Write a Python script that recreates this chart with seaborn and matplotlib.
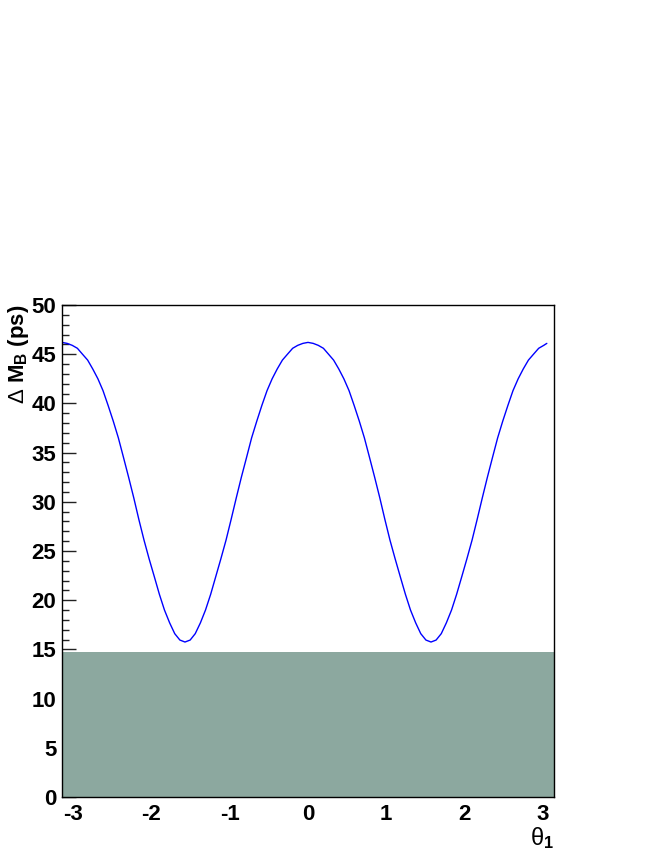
import numpy as np
import pandas as pd
import matplotlib
matplotlib.use("Agg")
import matplotlib.pyplot as plt
import seaborn as sns
from matplotlib.ticker import MultipleLocator

theta = list(np.round(np.linspace(-np.pi, 3.011, 95), 3)) + [3.050]
delta_mb = [
    46.2, 46.1, 45.9, 45.6, 45.0, 44.4, 43.5, 42.5, 41.3, 39.8, 38.2, 36.5, 34.5,
    32.5, 30.4, 28.2, 26.1, 24.2, 22.4, 20.6, 19.0, 17.7, 16.6, 15.95, 15.75,
    15.95, 16.6, 17.7, 19.0, 20.6, 22.4, 24.2, 26.1, 28.2, 30.4, 32.5, 34.5,
    36.5, 38.2, 39.8, 41.3, 42.5, 43.5, 44.4, 45.0, 45.6, 45.9, 46.1, 46.2,
    46.1, 45.9, 45.6, 45.0, 44.4, 43.5, 42.5, 41.3, 39.8, 38.2, 36.5, 34.5,
    32.5, 30.4, 28.2, 26.1, 24.2, 22.4, 20.6, 19.0, 17.7, 16.6, 15.95, 15.75,
    15.95, 16.6, 17.7, 19.0, 20.6, 22.4, 24.2, 26.1, 28.2, 30.4, 32.5, 34.5,
    36.5, 38.2, 39.8, 41.3, 42.5, 43.5, 44.4, 45.0, 45.6, 45.9, 46.1,
]
excluded_upper = 14.7
x_range = (-np.pi, np.pi)
y_range = (0, 50)

df = pd.DataFrame({"theta": theta, "dmb": delta_mb})

#%% STYLE
sns.set_style("ticks")
plt.rcParams['font.family'] = ['Liberation Sans', 'DejaVu Sans']
plt.rcParams['axes.unicode_minus'] = False
plt.rcParams['mathtext.fontset'] = 'custom'
plt.rcParams['mathtext.rm'] = 'Liberation Sans'
plt.rcParams['mathtext.it'] = 'Liberation Sans:italic'
plt.rcParams['mathtext.bf'] = 'Liberation Sans:bold'

fig = plt.figure(figsize=(6.64, 8.6), dpi=100)
ax = fig.add_axes([62/664, 63/860, 492/664, 492/860])

ax.axhspan(y_range[0], excluded_upper, color='#8ca89f', lw=0, zorder=1)
sns.lineplot(data=df, x="theta", y="dmb", color='#0000ff', lw=1.0, ax=ax, zorder=3)

ax.set_xlim(*x_range)
ax.set_ylim(*y_range)

ax.xaxis.set_major_locator(MultipleLocator(1))
ax.xaxis.set_minor_locator(MultipleLocator(0.2))
ax.yaxis.set_major_locator(MultipleLocator(5))
ax.yaxis.set_minor_locator(MultipleLocator(1))
ax.tick_params(which='both', direction='in', top=False, right=False,
               color='#222222', width=1, labelcolor='black')
ax.tick_params(which='major', length=10, labelsize=16)
ax.tick_params(axis='x', which='major', pad=5)
ax.tick_params(axis='y', which='major', pad=4)
ax.tick_params(which='minor', length=5)
for lbl in ax.get_xticklabels() + ax.get_yticklabels():
    lbl.set_fontweight('bold')
for sp in ax.spines.values():
    sp.set_linewidth(1.0)
    sp.set_color('black')
    sp.set_zorder(5)

ax.set_ylabel(r'$\Delta$ M$_{\mathbf{B}}$ (ps)', fontsize=16, fontweight='bold',
              loc='top', color='black')
ax.yaxis.set_label_coords(-0.063, 1.0)
ax.set_xlabel(r'$\mathrm{\theta}_{\mathbf{1}}$', fontsize=17, loc='right', color='black')
ax.xaxis.set_label_coords(1.0, -0.058)

fig.savefig("out.png", dpi=100)
